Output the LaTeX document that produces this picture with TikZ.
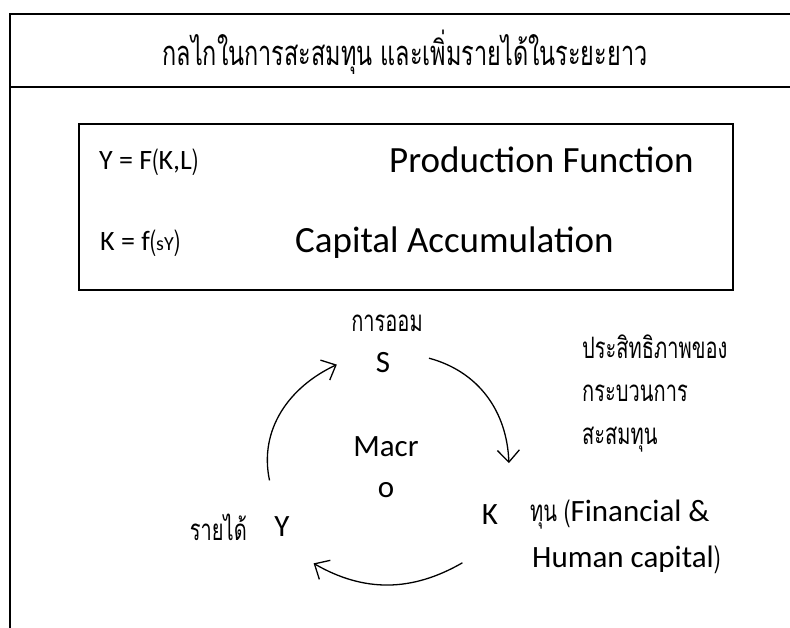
\documentclass[tikz,border=0pt]{standalone}
\usepackage{fontspec}
\setmainfont{Carlito}
\newfontfamily\thai[Script=Thai,FakeStretch=0.68]{Loma}
\usetikzlibrary{arrows.meta}

\begin{document}
\begin{tikzpicture}[x=1pt,y=1pt,
    frame/.style={line width=1.5pt},
    bigtext/.style={inner sep=0,anchor=west,font=\fontsize{37}{40}\selectfont},
    formula/.style={inner sep=0,anchor=west,font=\fontsize{28}{32}\selectfont},
    cyclevar/.style={circle,inner sep=0,font=\fontsize{31}{41}\selectfont},
    thaitext/.style={inner sep=0,font=\thai\fontsize{29.5}{34}\selectfont},
    cyclearrow/.style={line width=1.3pt,-{Straight Barb[length=12pt,width=22pt]}}]

  \useasboundingbox (0,0) rectangle (790,-628);

  % กรอบหัวเรื่อง
  \draw[frame] (790,-14) -- (10,-14) -- (10,-628);
  \draw[frame] (10,-87) -- (790,-87);
  \node[thaitext,font=\thai\fontsize{34.5}{40}\selectfont] (title) at (405,-52)
    {กลไกในการสะสมทุน และเพิ่มรายได้ในระยะยาว};

  % สมการ
  \draw[frame] (79,-124) rectangle (733,-290);
  \node[formula] (prod) at (99,-162) {Y = F{\thai(}K,L{\thai)}};
  \node[bigtext] (prodname) at (389,-160) {Production Function};
  \node[formula] (accum) at (100,-243)
    {K = f{\thai(}{\fontsize{20}{22}\selectfont sY}{\thai)}};
  \node[bigtext] (accumname) at (295,-243) {Capital Accumulation};

  % วงจร S -> K -> Y
  \node[cyclevar,minimum size=92pt] (s) at (383,-363) {S};
  \node[cyclevar,minimum size=110pt] (k) at (490,-515) {K};
  \node[cyclevar,minimum size=96pt] (y) at (282,-527) {Y};
  \node[cyclevar,align=center] (macro) at (386,-467) {Macr\\o};
  \node[thaitext] (saving) at (387,-323) {การออม};
  \node[thaitext,anchor=east] (income) at (247,-527) {รายได้};
  \node[inner sep=0,anchor=west,font=\fontsize{31}{34}\selectfont] (capital) at (530,-515)
    {{\thai\fontsize{29.5}{34}\selectfont ทุน (}Financial \&};
  \node[inner sep=0,anchor=west,font=\fontsize{31}{34}\selectfont] (capital2) at (532,-560)
    {Human capital{\thai\fontsize{29.5}{34}\selectfont )}};
  \foreach \i/\t in {1/ประสิทธิภาพของ,2/กระบวนการ,3/สะสมทุน}
    \node[thaitext,anchor=west] (eff\i) at (582,{-347-(\i-1)*46.5}) {\t};

  \draw[cyclearrow] (y.105) to[out=102,in=205] (s.182);
  \draw[cyclearrow] (s.6) to[out=-15,in=92] (k.70);
  \draw[cyclearrow] (k.240) to[out=210,in=330] (y.311);
\end{tikzpicture}
\end{document}
